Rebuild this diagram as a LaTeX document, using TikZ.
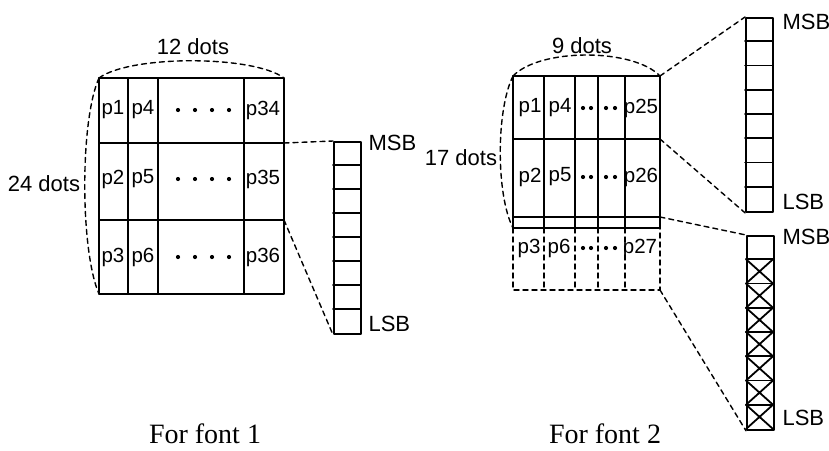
\documentclass[tikz,border=0pt]{standalone}
\usepackage{fontspec}
\setmainfont{Liberation Serif}
\setsansfont{Liberation Sans}
\begin{document}
\begin{tikzpicture}[x=1pt, y=-1pt, line cap=round, line join=round,
  font=\sffamily\fontsize{22}{26}\selectfont,
  gridline/.style={line width=1.8pt},
  link/.style={line width=1.4pt, dash pattern=on 5pt off 4pt},
  pixel/.style={font=\sffamily\fontsize{20.5}{24}\selectfont, inner sep=0pt},
  bitbox/.style={draw, line width=1.8pt, minimum width=27pt, inner sep=0pt, anchor=north west},
  fontcaption/.style={font=\rmfamily\fontsize{28}{32}\selectfont, inner sep=0pt, anchor=base}]
  \useasboundingbox (0,0) rectangle (829,450);
  % font 1: 12 x 24 dots
  \path
  (99,78) coordinate (A1)
  (284,78) coordinate (B1)
  (284,294) coordinate (C1)
  (99,294) coordinate (D1)
  (284,143) coordinate (R1)
  (284,220) coordinate (R2);
  \draw[gridline] (A1) rectangle (C1);
  \foreach \x in {128,158,244} \draw[gridline] (\x,78) -- (\x,294);
  \foreach \y in {143,220} \draw[gridline] (99,\y) -- (284,\y);
  \foreach \lbl/\x/\y in {p1/113/110, p4/143/110, p34/263/110,
    p2/113/179, p5/143/179, p35/263/179,
    p3/113/257, p6/143/257, p36/263/257}
    \node[pixel] (\lbl) at (\x,\y) {\lbl};
  \foreach \y in {110,179,257}
    \foreach \x in {178,195,212,229} \fill (\x,\y) circle (2.1pt);
  \draw[link] (A1) .. controls (130,55) and (253,55) .. (B1);
  \draw[link] (A1) .. controls (80,120) and (80,250) .. (D1);
  \node (w1) at (193,47) {12 dots};
  \node (h1) at (44,184) {24 dots};
  % bit column of font 1
  \node[bitbox, minimum height=192pt] (bits1) at (333,141) {};
  \foreach \i in {1,...,7} \draw[gridline] (333,141+24*\i) -- ++(27,0);
  \draw[link] (R1) -- (bits1.north west);
  \draw[link] (R2) -- (bits1.south west);
  \node[anchor=west] (msb1) at (365,143) {MSB};
  \node[anchor=west] (lsb1) at (365,324) {LSB};
  \node[fontcaption] (cap1) at (205,443) {For font 1};
  % font 2: 9 x 17 dots
  \path
  (513,76) coordinate (A2)
  (660,76) coordinate (B2)
  (660,228) coordinate (C2)
  (513,228) coordinate (D2)
  (660,139) coordinate (S1)
  (660,217) coordinate (S2)
  (660,290) coordinate (S3)
  (513,290) coordinate (D3);
  \draw[gridline] (A2) rectangle (C2);
  \foreach \x in {544,575,598,625} \draw[gridline] (\x,76) -- (\x,228);
  \foreach \y in {139,217} \draw[gridline] (513,\y) -- (660,\y);
  \draw[link] (D2) -- (D3) -- (S3) -- (C2);
  \foreach \x in {544,575,598,625} \draw[link] (\x,228) -- (\x,290);
  \foreach \lbl/\x/\y in {p1/530/108, p4/560/108, p25/641/108,
    p2/530/177, p5/560/177, p26/641/177,
    p3/529/248, p6/559/248, p27/640/248}
    \node[pixel] (\lbl) at (\x,\y) {\lbl};
  \foreach \y in {108,177,248}
    \foreach \x in {583,591,606,615} \fill (\x,\y) circle (2.1pt);
  \draw[link] (A2) .. controls (540,48) and (633,48) .. (B2);
  \draw[link] (A2) .. controls (496,110) and (496,195) .. (D2);
  \node (w2) at (582,46) {9 dots};
  \node (h2) at (461,158) {17 dots};
  % bit columns of font 2
  \node[bitbox, minimum height=194pt] (bits2) at (745,17) {};
  \foreach \i in {1,...,7} \draw[gridline] (745,17+24.25*\i) -- ++(27,0);
  \node[bitbox, minimum height=194pt] (bits3) at (746,235) {};
  \foreach \i in {1,...,7} {
    \draw[gridline] (746,235+24.25*\i) -- ++(27,0);
    \draw[gridline] (746,235+24.25*\i) -- ++(27,24.25) ++(0,-24.25) -- ++(-27,24.25);
  }
  \draw[link] (B2) -- (bits2.north west);
  \draw[link] (S1) -- (bits2.south west);
  \draw[link] (S2) -- (bits3.north west);
  \draw[link] (S3) -- (bits3.south west);
  \node[anchor=west] (msb2) at (779,22) {MSB};
  \node[anchor=west] (lsb2) at (779,202) {LSB};
  \node[anchor=west] (msb3) at (779,237) {MSB};
  \node[anchor=west] (lsb3) at (779,418) {LSB};
  \node[fontcaption] (cap2) at (605,443) {For font 2};
\end{tikzpicture}
\end{document}
